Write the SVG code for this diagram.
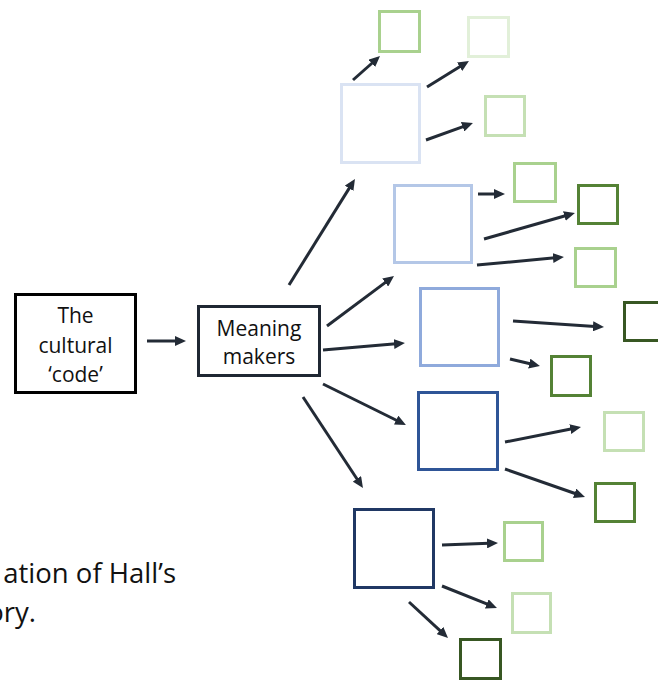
<svg xmlns="http://www.w3.org/2000/svg" width="658" height="681" viewBox="0 0 658 681">
  <style>
    .box { fill: #ffffff; stroke-width: 3; }
    .label { font-family: "Open Sans", "Liberation Sans", sans-serif; font-size: 21px; fill: #111111; text-anchor: middle; }
    .caption { font-family: "Open Sans", "Liberation Sans", sans-serif; font-size: 27.5px; fill: #111111; text-anchor: end; }
    .sq { fill: none; stroke-width: 3; }
    .conn line { stroke: #232b36; stroke-width: 3; fill: none; marker-end: url(#head); }
  </style>
  <defs>
    <marker id="head" markerUnits="userSpaceOnUse" markerWidth="11" markerHeight="10" refX="2" refY="5" orient="auto">
      <path d="M0,0 L11,5 L0,10 Z" fill="#232b36"/>
    </marker>
  </defs>
  <rect width="658" height="681" fill="#ffffff"/>

  <!-- source node -->
  <g id="cultural-code">
    <rect class="box" x="15.5" y="294.5" width="120" height="98" stroke="#000000"/>
    <text class="label" x="75.5" y="323">The</text>
    <text class="label" x="75.5" y="352.5">cultural</text>
    <text class="label" x="75.5" y="381.5">‘code’</text>
  </g>

  <!-- middle node -->
  <g id="meaning-makers">
    <rect class="box" x="198.5" y="306.5" width="121" height="69" stroke="#1f2733"/>
    <text class="label" x="259" y="336">Meaning</text>
    <text class="label" x="259" y="363.5">makers</text>
  </g>

  <!-- first-level squares (blues) -->
  <g id="sq-a"><rect class="sq" x="341.5" y="84.5" width="78" height="78" stroke="#dae3f3"/></g>
  <g id="sq-b"><rect class="sq" x="394.5" y="185.5" width="77" height="77" stroke="#b4c7e7"/></g>
  <g id="sq-c"><rect class="sq" x="420.5" y="288.5" width="78" height="77" stroke="#8faadc"/></g>
  <g id="sq-d"><rect class="sq" x="418.5" y="392.5" width="79" height="77" stroke="#2f5597"/></g>
  <g id="sq-e"><rect class="sq" x="354.5" y="509.5" width="79" height="78" stroke="#203864"/></g>

  <!-- second-level squares (greens) -->
  <g id="sq-a1"><rect class="sq" x="379.5" y="11.5" width="40" height="40" stroke="#a9d18e"/></g>
  <g id="sq-a2"><rect class="sq" x="468.5" y="17.5" width="40" height="39" stroke="#e2f0d9"/></g>
  <g id="sq-a3"><rect class="sq" x="485.5" y="96.5" width="39" height="39" stroke="#c5e0b4"/></g>
  <g id="sq-b1"><rect class="sq" x="514.5" y="163.5" width="41" height="38" stroke="#a9d18e"/></g>
  <g id="sq-b2"><rect class="sq" x="578.5" y="185.5" width="39" height="38" stroke="#548235"/></g>
  <g id="sq-b3"><rect class="sq" x="575.5" y="248.5" width="40" height="38" stroke="#a9d18e"/></g>
  <g id="sq-c1"><rect class="sq" x="624.5" y="302.5" width="40" height="38" stroke="#385723"/></g>
  <g id="sq-c2"><rect class="sq" x="551.5" y="356.5" width="39" height="39" stroke="#548235"/></g>
  <g id="sq-d1"><rect class="sq" x="604.5" y="412.5" width="39" height="38" stroke="#c5e0b4"/></g>
  <g id="sq-d2"><rect class="sq" x="595.5" y="483.5" width="39" height="38" stroke="#548235"/></g>
  <g id="sq-e1"><rect class="sq" x="504.5" y="522.5" width="38" height="38" stroke="#a9d18e"/></g>
  <g id="sq-e2"><rect class="sq" x="512.5" y="593.5" width="38" height="39" stroke="#c5e0b4"/></g>
  <g id="sq-e3"><rect class="sq" x="460.5" y="639.5" width="40" height="39" stroke="#385723"/></g>

  <!-- connectors -->
  <g id="connectors" class="conn">
    <line x1="147" y1="341" x2="177" y2="341"/>
    <line x1="289" y1="285" x2="350.2" y2="186.6"/>
    <line x1="327" y1="326" x2="386.8" y2="281.4"/>
    <line x1="323" y1="350" x2="396" y2="343.8"/>
    <line x1="323" y1="384" x2="397.9" y2="421"/>
    <line x1="303" y1="397" x2="358" y2="480.5"/>
    <line x1="353" y1="80" x2="373.3" y2="62"/>
    <line x1="427" y1="87" x2="461.3" y2="65.7"/>
    <line x1="426" y1="140" x2="464.5" y2="126.1"/>
    <line x1="478" y1="194" x2="496" y2="194"/>
    <line x1="484" y1="239" x2="566.3" y2="215.5"/>
    <line x1="477" y1="265" x2="555" y2="257.8"/>
    <line x1="513" y1="321" x2="595" y2="326.4"/>
    <line x1="510" y1="359" x2="531.2" y2="364"/>
    <line x1="505" y1="442" x2="572.2" y2="428.7"/>
    <line x1="505" y1="469" x2="576.5" y2="494"/>
    <line x1="442" y1="545" x2="489" y2="543.3"/>
    <line x1="442" y1="586" x2="488.6" y2="604.7"/>
    <line x1="409" y1="602" x2="441.4" y2="631.9"/>
  </g>

  <!-- caption fragment at the left edge -->
  <g id="caption">
    <text class="caption" x="176" y="583">ation of Hall’s</text>
    <text class="caption" x="36" y="622">ory.</text>
  </g>
</svg>
